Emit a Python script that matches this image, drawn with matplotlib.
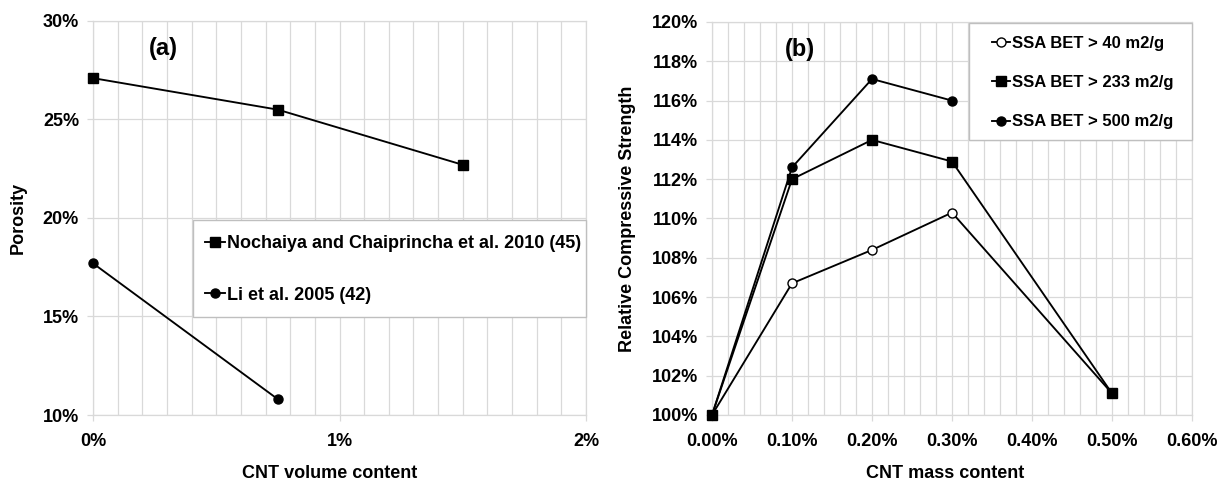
import matplotlib.pyplot as plt
from matplotlib.patches import Rectangle
from matplotlib.ticker import MultipleLocator, FuncFormatter

plt.rcParams['font.family'] = ['Liberation Sans', 'DejaVu Sans']
plt.rcParams['font.weight'] = 'bold'

# (a) porosity vs CNT volume content (%)
nochaiya_x = [0.0, 0.75, 1.5]
nochaiya_y = [27.1, 25.5, 22.7]
li_x = [0.0, 0.75]
li_y = [17.7, 10.8]

# (b) relative compressive strength vs CNT mass content (%)
mass_x = [0.0, 0.1, 0.2, 0.3, 0.5]
ssa40 = [100.0, 106.7, 108.4, 110.3, 101.1]
ssa233 = [100.0, 112.0, 114.0, 112.9, 101.1]
ssa500_x = [0.0, 0.1, 0.2, 0.3]
ssa500 = [100.0, 112.6, 117.1, 116.0]

grid_c = '#d9d9d9'
box_c = '#bfbfbf'

fig = plt.figure(figsize=(12.22, 4.83), dpi=100)
ax1 = fig.add_axes([93 / 1222, 68 / 483, 493 / 1222, 394 / 483])
ax2 = fig.add_axes([712 / 1222, 68 / 483, 480 / 1222, 393 / 483])


def style(ax):
    for s in ax.spines.values():
        s.set_color(grid_c)
        s.set_linewidth(0.9)
    ax.set_axisbelow(True)
    ax.grid(True, which='both', color=grid_c, linewidth=0.9)
    ax.tick_params(which='major', length=4, color=grid_c, width=0.9,
                   labelsize=13, pad=6)
    ax.tick_params(axis='x', which='major', pad=9)
    ax.tick_params(which='minor', length=0)
    for lab in ax.get_xticklabels() + ax.get_yticklabels():
        lab.set_fontweight('bold')


def legend_box(ax, x, y, w, h):
    ax.add_patch(Rectangle((x, y), w, h, transform=ax.transAxes,
                           facecolor='white', edgecolor=box_c, lw=1.0,
                           zorder=4, clip_on=False))


line_kw = dict(color='black', lw=1.35, clip_on=False, zorder=5)

# --- panel (a)
ax1.plot(nochaiya_x, nochaiya_y, marker='s', ms=7,
         label='Nochaiya and Chaiprincha et al. 2010 (45)', **line_kw)
ax1.plot(li_x, li_y, marker='o', ms=6.5, label='Li et al. 2005 (42)', **line_kw)
ax1.set_xlim(0, 2)
ax1.set_ylim(10, 30)
ax1.xaxis.set_major_locator(MultipleLocator(1))
ax1.xaxis.set_minor_locator(MultipleLocator(0.1))
ax1.yaxis.set_major_locator(MultipleLocator(5))
ax1.xaxis.set_major_formatter(FuncFormatter(lambda v, p: f'{v:.0f}%'))
ax1.yaxis.set_major_formatter(FuncFormatter(lambda v, p: f'{v:.0f}%'))
style(ax1)
ax1.set_xlabel('CNT volume content', fontsize=13, fontweight='bold')
ax1.xaxis.set_label_coords(0.48, -0.128)
ax1.set_ylabel('Porosity', fontsize=13, fontweight='bold')
ax1.yaxis.set_label_coords(-0.135, 0.5)
ax1.text(0.284, 28.6, '(a)', fontsize=17, fontweight='bold', ha='center', va='center')
legend_box(ax1, 0.203, 0.249, 0.797, 0.246)
leg1 = ax1.legend(loc='upper left', bbox_to_anchor=(0.227, 0.457),
                  fontsize=13, frameon=False, borderaxespad=0, borderpad=0,
                  handlelength=1.1, handletextpad=0.1, labelspacing=1.92)
leg1.set_zorder(6)

# --- panel (b)
ax2.plot(mass_x, ssa40, marker='o', ms=6.5, mfc='white', mec='black',
         label='SSA BET > 40 m2/g', **line_kw)
ax2.plot(mass_x, ssa233, marker='s', ms=7, label='SSA BET > 233 m2/g', **line_kw)
ax2.plot(ssa500_x, ssa500, marker='o', ms=6.5, label='SSA BET > 500 m2/g', **line_kw)
ax2.set_xlim(0, 0.6)
ax2.set_ylim(100, 120)
ax2.xaxis.set_major_locator(MultipleLocator(0.1))
ax2.xaxis.set_minor_locator(MultipleLocator(0.02))
ax2.yaxis.set_major_locator(MultipleLocator(2))
ax2.xaxis.set_major_formatter(FuncFormatter(lambda v, p: f'{v:.2f}%'))
ax2.yaxis.set_major_formatter(FuncFormatter(lambda v, p: f'{v:.0f}%'))
style(ax2)
ax2.set_xlabel('CNT mass content', fontsize=13, fontweight='bold')
ax2.xaxis.set_label_coords(0.485, -0.128)
ax2.set_ylabel('Relative Compressive Strength', fontsize=13, fontweight='bold')
ax2.yaxis.set_label_coords(-0.158, 0.5)
ax2.text(0.11, 118.6, '(b)', fontsize=17, fontweight='bold', ha='center', va='center')
legend_box(ax2, 0.535, 0.6997, 0.465, 0.2978)
leg2 = ax2.legend(loc='upper left', bbox_to_anchor=(0.583, 0.964),
                  fontsize=12, frameon=False, borderaxespad=0, borderpad=0,
                  handlelength=1.1, handletextpad=0.1, labelspacing=1.45)
leg2.set_zorder(6)

fig.savefig('out.png', dpi=100)
